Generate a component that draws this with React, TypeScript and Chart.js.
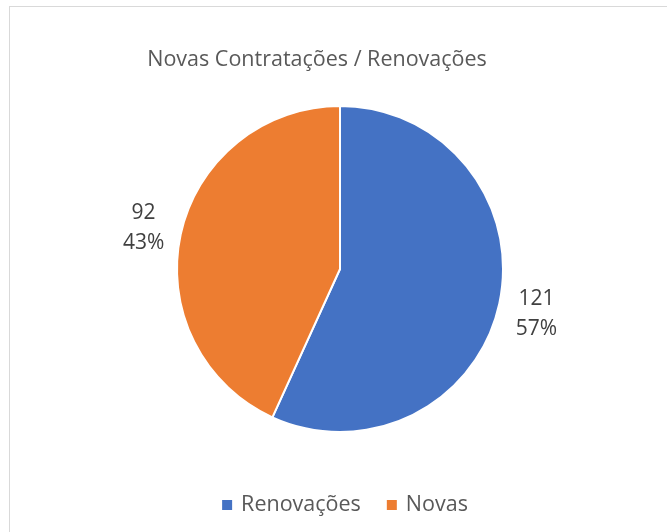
import React, { useEffect, useRef } from "react";
import { Chart, registerables } from "chart.js";

Chart.register(...registerables);

const chartTitle = "Novas Contratações / Renovações";
const categories = ["Renovações", "Novas"];
const values = [121, 92];
const colors = ["#4472C4", "#ED7D31"];

const FONT = "'Open Sans', 'Noto Sans', sans-serif";

const overlayPlugin = {
  id: "overlay",
  afterDraw(chart: any) {
    const ctx = chart.ctx as CanvasRenderingContext2D;
    const meta = chart.getDatasetMeta(0);
    const total = values.reduce((a, b) => a + b, 0);
    ctx.save();
    // title
    ctx.fillStyle = "#595959";
    ctx.font = `21.5px ${FONT}`;
    ctx.textAlign = "center";
    ctx.textBaseline = "middle";
    ctx.fillText(chartTitle, 317, 60);

    // data labels
    ctx.fillStyle = "#404040";
    ctx.font = `21px ${FONT}`;
    meta.data.forEach((arc: any, i: number) => {
      const { x, y, startAngle, endAngle, outerRadius } = arc.getProps(
        ["x", "y", "startAngle", "endAngle", "outerRadius"],
        true
      );
      const mid = (startAngle + endAngle) / 2;
      const r = outerRadius + 38;
      const lx = x + Math.cos(mid) * r;
      const ly = y + Math.sin(mid) * r + 2;
      const pct = Math.round((values[i] / total) * 100) + "%";
      ctx.fillText(String(values[i]), lx, ly - 15);
      ctx.fillText(pct, lx, ly + 15);
    });

    // legend
    ctx.font = `21.5px ${FONT}`;
    ctx.textAlign = "left";
    const box = 10;
    const gapBoxText = 9;
    const gapItems = 26;
    const widths = categories.map((c) => ctx.measureText(c).width);
    const totalW =
      widths.reduce((a, w) => a + box + gapBoxText + w, 0) +
      gapItems * (categories.length - 1);
    let lx = 345 - totalW / 2;
    const ly = 505;
    categories.forEach((c, i) => {
      ctx.fillStyle = colors[i];
      ctx.fillRect(lx, ly - box / 2, box, box);
      lx += box + gapBoxText;
      ctx.fillStyle = "#595959";
      ctx.fillText(c, lx, ly);
      lx += widths[i] + gapItems;
    });
    ctx.restore();
  },
};

export default function App() {
  const ref = useRef<HTMLCanvasElement>(null);
  useEffect(() => {
    if (!ref.current) return;
    const chart = new Chart(ref.current, {
      type: "pie",
      data: {
        labels: categories,
        datasets: [
          {
            data: values,
            backgroundColor: colors,
            borderColor: "#ffffff",
            borderWidth: 2,
          },
        ],
      },
      options: {
        responsive: false,
        animation: false,
        layout: { padding: { left: 176, right: 163, top: 105, bottom: 99 } },
        plugins: {
          legend: { display: false },
          title: { display: false },
          tooltip: { enabled: false },
        },
      },
      plugins: [overlayPlugin],
    });
    return () => chart.destroy();
  }, []);

  return (
    <div
      style={{
        position: "fixed",
        left: 0,
        top: 0,
        width: 667,
        height: 532,
        overflow: "hidden",
        background: "#ffffff",
      }}
    >
      <div
        style={{
          position: "absolute",
          left: 9,
          top: 6,
          width: 700,
          height: 600,
          border: "1px solid #D9D9D9",
          boxSizing: "border-box",
        }}
      />
      <canvas
        ref={ref}
        width={667}
        height={532}
        style={{ position: "absolute", left: 0, top: 0, width: 667, height: 532 }}
      />
    </div>
  );
}
